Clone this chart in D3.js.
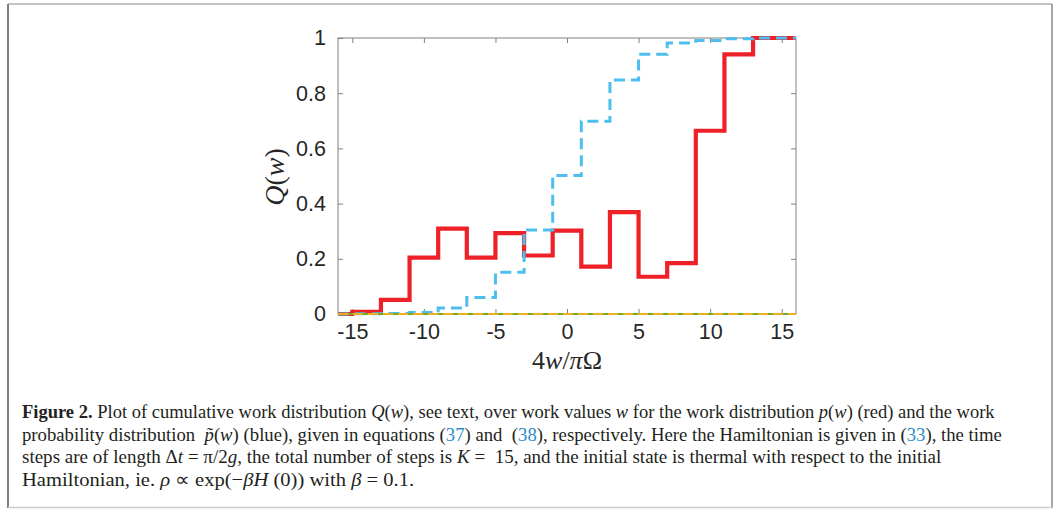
<!DOCTYPE html>
<html>
<head>
<meta charset="utf-8">
<script src="https://cdn.jsdelivr.net/npm/d3@7"></script>
<style>
  body { margin: 0; background: #fff; }
  svg { display: block; }
</style>
</head>
<body>
<div id="figure"></div>
<script>
// step edges in units of 4w/piOmega
const edges = [-16, -15, -13, -11, -9, -7, -5, -3, -1, 1, 3, 5, 7, 9, 11, 13, 16];
// Q(w) for p(w), red
const redValues = [0, 0.008, 0.051, 0.204, 0.309, 0.204, 0.293, 0.212, 0.302, 0.172, 0.369, 0.135, 0.184, 0.664, 0.941, 1];
// Q(w) for p~(w), blue
const blueValues = [0, 0.001, 0.002, 0.005, 0.022, 0.06, 0.151, 0.304, 0.502, 0.698, 0.848, 0.941, 0.982, 0.991, 0.997, 1];
// the two flat series lying on zero
const zeroValues = [0, 0, 0, 0, 0, 0, 0, 0, 0, 0, 0, 0, 0, 0, 0, 0];
const xTicks = [-15, -10, -5, 0, 5, 10, 15];
const yTicks = [0, 0.2, 0.4, 0.6, 0.8, 1];

const width = 1055, height = 509;
const plot = { left: 338, right: 796, top: 38, bottom: 314 };

const svg = d3.select("#figure")
    .append("svg")
    .attr("width", width)
    .attr("height", height);

// outer figure frame
const frame = svg.append("g");
frame.append("line").attr("x1", 8).attr("x2", 1052).attr("y1", 4).attr("y2", 4).attr("stroke", "#b0b0b0").attr("stroke-width", 1.5);
frame.append("line").attr("x1", 8).attr("x2", 8).attr("y1", 4).attr("y2", 508).attr("stroke", "#808080").attr("stroke-width", 2);
frame.append("line").attr("x1", 1052).attr("x2", 1052).attr("y1", 4).attr("y2", 508).attr("stroke", "#8a8a8a").attr("stroke-width", 1.5);
frame.append("line").attr("x1", 8).attr("x2", 1052).attr("y1", 507.5).attr("y2", 507.5).attr("stroke", "#cccccc").attr("stroke-width", 1.5);

const x = d3.scaleLinear().domain([-16, 16]).range([plot.left, plot.right]);
const y = d3.scaleLinear().domain([0, 1]).range([plot.bottom, plot.top]);

const axisColor = "#808080";
const labelFont = "'Liberation Sans', Arial, sans-serif";

// box
svg.append("rect")
    .attr("x", plot.left).attr("y", plot.top)
    .attr("width", plot.right - plot.left).attr("height", plot.bottom - plot.top)
    .attr("fill", "none").attr("stroke", axisColor).attr("stroke-width", 1);

// ticks inside on all four sides
function styleAxis(g) {
    g.select(".domain").remove();
    g.selectAll(".tick line").attr("stroke", axisColor);
    g.selectAll(".tick text").attr("fill", "#262626")
        .style("font-family", labelFont).style("font-size", "21.5px");
}

svg.append("g")
    .attr("transform", `translate(0,${plot.bottom})`)
    .call(d3.axisBottom(x).tickValues(xTicks).tickSizeInner(-5).tickSizeOuter(0).tickPadding(10).tickFormat(d3.format("d")))
    .call(styleAxis)
    .selectAll(".tick text").text(d => d < 0 ? "-" + Math.abs(d) : d);

svg.append("g")
    .attr("transform", `translate(0,${plot.top})`)
    .call(d3.axisTop(x).tickValues(xTicks).tickSizeInner(-5).tickSizeOuter(0).tickFormat(""))
    .call(styleAxis);

svg.append("g")
    .attr("transform", `translate(${plot.left},0)`)
    .call(d3.axisLeft(y).tickValues(yTicks).tickSizeInner(-5).tickSizeOuter(0).tickPadding(12).tickFormat(d => d3.format("")(+d.toFixed(1))))
    .call(styleAxis);

svg.append("g")
    .attr("transform", `translate(${plot.right},0)`)
    .call(d3.axisRight(y).tickValues(yTicks).tickSizeInner(-5).tickSizeOuter(0).tickFormat(""))
    .call(styleAxis);

// step lines
const stepLine = d3.line()
    .x(d => x(d[0]))
    .y(d => y(d[1]))
    .curve(d3.curveStepAfter);

function stepPoints(values) {
    const pts = values.map((v, i) => [edges[i], v]);
    pts.push([edges[edges.length - 1], values[values.length - 1]]);
    return pts;
}

svg.append("path")
    .attr("d", stepLine(stepPoints(redValues)))
    .attr("fill", "none")
    .attr("stroke", "#ee2128")
    .attr("stroke-width", 4.2);

svg.append("path")
    .attr("d", stepLine(stepPoints(blueValues)))
    .attr("fill", "none")
    .attr("stroke", "#4dbeee")
    .attr("stroke-width", 3)
    .attr("stroke-dasharray", "11,6");

svg.append("path")
    .attr("d", stepLine(stepPoints(zeroValues)))
    .attr("fill", "none")
    .attr("stroke", "#77ac30")
    .attr("stroke-width", 2);

svg.append("path")
    .attr("d", stepLine(stepPoints(zeroValues)))
    .attr("fill", "none")
    .attr("stroke", "#edb120")
    .attr("stroke-width", 2)
    .attr("stroke-dasharray", "10,5");

// axis labels
const mathFont = "'Liberation Serif', 'DejaVu Serif', serif";

const ylab = svg.append("text")
    .attr("transform", "translate(284,177) rotate(-90)")
    .attr("text-anchor", "middle")
    .style("font-family", mathFont)
    .style("font-size", "28px")
    .attr("fill", "#262626");
ylab.append("tspan").style("font-style", "italic").text("Q");
ylab.append("tspan").text("(");
ylab.append("tspan").style("font-style", "italic").text("w");
ylab.append("tspan").text(")");

const xlab = svg.append("text")
    .attr("x", 567).attr("y", 369)
    .attr("text-anchor", "middle")
    .style("font-family", mathFont)
    .style("font-size", "26px")
    .attr("fill", "#262626");
xlab.append("tspan").text("4");
xlab.append("tspan").style("font-style", "italic").text("w");
xlab.append("tspan").text("/");
xlab.append("tspan").style("font-style", "italic").text("π");
xlab.append("tspan").text("Ω");

// caption, each line squeezed horizontally to the width it has in the figure
const link = "#2a8cc9";
const captionLines = [
    { y: 418, len: 973, parts: [
        ["Figure 2.", "b"], [" Plot of cumulative work distribution "], ["Q", "i"], ["("], ["w", "i"],
        ["), see text, over work values "], ["w", "i"], [" for the work distribution "], ["p", "i"], ["("], ["w", "i"],
        [") (red) and the work"]] },
    { y: 441, len: 980, parts: [
        ["probability distribution  "], ["p̃", "i"], ["("], ["w", "i"], [") (blue), given in equations ("],
        ["37", "l"], [") and  ("], ["38", "l"], ["), respectively. Here the Hamiltonian is given in ("], ["33", "l"],
        ["), the time"]] },
    { y: 463, len: 920, parts: [
        ["steps are of length Δ"], ["t", "i"], [" = π/2"], ["g", "i"], [", the total number of steps is "], ["K", "i"],
        [" =  15, and the initial state is thermal with respect to the initial"]] },
    { y: 486, len: 393, parts: [
        ["Hamiltonian, ie. "], ["ρ", "i"], [" ∝ exp(−"], ["βH", "i"], [" (0)) with "], ["β", "i"], [" = 0.1."]] }
];

captionLines.forEach(line => {
    const t = svg.append("text")
        .attr("x", 0).attr("y", 0)
        .style("font-family", "'Liberation Serif', 'Times New Roman', serif")
        .style("font-size", "19px")
        .attr("fill", "#231f20")
        .style("white-space", "pre");
    line.parts.forEach(p => {
        const s = t.append("tspan").text(p[0]);
        if (p[1] === "b") s.style("font-weight", "bold");
        if (p[1] === "i") s.style("font-style", "italic");
        if (p[1] === "l") s.attr("fill", link);
    });
    const natural = t.node().getComputedTextLength();
    t.attr("transform", `translate(22,${line.y}) scale(${line.len / natural},1)`);
});
</script>
</body>
</html>
